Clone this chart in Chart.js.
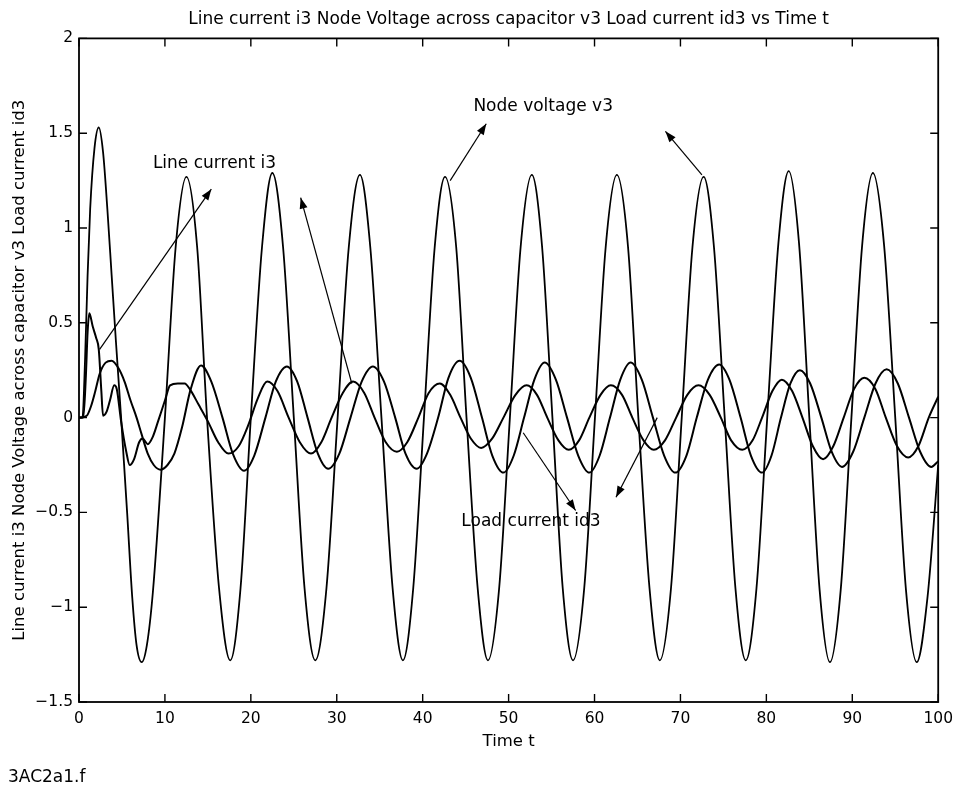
<!DOCTYPE html>
<html>
<head>
<meta charset="utf-8">
<script src="https://cdn.jsdelivr.net/npm/chart.js@4"></script>
<style>
  html, body { margin: 0; padding: 0; background: #fff; }
  #wrap { width: 961px; height: 790px; }
</style>
</head>
<body>
<div id="wrap"><canvas id="chartDiv" width="961" height="790"></canvas></div>
<script>
// tick values / labels
const xTicks = [0, 10, 20, 30, 40, 50, 60, 70, 80, 90, 100]
const yTicks = [-1.5, -1, -0.5, 0, 0.5, 1, 1.5, 2]
const yTickLabels = ['\u22121.5', '\u22121', '\u22120.5', '0', '0.5', '1', '1.5', '2']

// node voltage v3
const v3Time = [0, 0.4, 0.7, 1.0, 1.3, 1.8, 2.3, 2.8, 3.3, 3.8, 4.3, 4.9, 5.6, 6.2, 6.7, 7.3, 7.9, 8.6, 10.0,
  11.25, 12.5, 13.75, 14.9, 16.3, 17.6, 18.8, 20.0, 21.3, 22.5, 23.75, 25.0, 26.25, 27.5, 28.8, 30.1,
  31.4, 32.7, 33.9, 35.2, 36.5, 37.7, 38.9, 40.15, 41.4, 42.6, 43.9, 45.1, 46.4, 47.6, 48.9, 50.15,
  51.4, 52.7, 53.9, 55.1, 56.3, 57.5, 58.8, 60.05, 61.3, 62.6, 63.9, 65.1, 66.4, 67.6, 68.9, 70.15,
  71.4, 72.7, 73.9, 75.15, 76.4, 77.6, 78.85, 80.1, 81.4, 82.6, 83.8, 85.0, 86.2, 87.4, 88.65, 89.9,
  91.15, 92.4, 93.7, 95.0, 96.25, 97.5, 98.75, 100]
const v3Vals = [0, 0.0, 0.3, 0.75, 1.1, 1.42, 1.53, 1.4, 1.1, 0.75, 0.4, 0, -0.5, -0.95, -1.2, -1.29, -1.2, -0.92, 0,
  0.9, 1.27, 0.9, 0, -0.9, -1.28, -0.9, 0, 0.9, 1.29, 0.9, 0, -0.9, -1.28, -0.9, 0,
  0.9, 1.28, 0.9, 0, -0.9, -1.28, -0.9, 0, 0.9, 1.27, 0.9, 0, -0.9, -1.28, -0.9, 0,
  0.9, 1.28, 0.9, 0, -0.9, -1.28, -0.9, 0, 0.9, 1.28, 0.9, 0, -0.9, -1.28, -0.9, 0,
  0.9, 1.27, 0.9, 0, -0.9, -1.28, -0.9, 0, 0.92, 1.30, 0.92, 0, -0.91, -1.29, -0.91, 0,
  0.91, 1.29, 0.91, 0, -0.91, -1.29, -0.95, -0.25]

// line current i3
const i3Time = [0, 0.5, 0.8, 1.0, 1.2, 1.6, 2.0, 2.3, 2.6, 2.8, 3.2, 3.6, 4.1, 4.4, 4.9, 5.5, 5.9, 6.4, 7.0,
  7.4, 8.0, 8.6, 9.2, 10.0, 10.6, 11.5, 12.3, 12.9, 13.9, 15.0, 16.2, 17.4, 18.6, 19.7, 20.8, 21.9,
  23.1, 24.4, 25.7, 27.0, 28.2, 29.4, 30.7, 31.9, 33.2, 34.4, 35.7, 37.0, 38.2, 39.5, 40.7, 42.0,
  43.2, 44.4, 45.6, 46.8, 48.1, 49.4, 50.8, 52.1, 53.3, 54.5, 55.8, 57.0, 58.2, 59.4, 60.7, 61.9,
  63.2, 64.4, 65.7, 66.9, 68.2, 69.5, 70.8, 72.1, 73.4, 74.7, 75.9, 77.2, 78.4, 79.5, 80.7, 81.8,
  83.0, 84.2, 85.4, 86.6, 87.8, 89.0, 90.2, 91.4, 92.7, 93.9, 95.2, 96.5, 97.7, 98.9, 100]
const i3Vals = [0, 0, 0.22, 0.45, 0.55, 0.48, 0.42, 0.36, 0.14, 0.01, 0.03, 0.09, 0.17, 0.15, -0.02, -0.18, -0.25, -0.22, -0.13,
  -0.11, -0.14, -0.10, -0.02, 0.09, 0.17, 0.18, 0.18, 0.15, 0.07, -0.02, -0.13, -0.19, -0.15, -0.04, 0.10, 0.19,
  0.14, 0, -0.13, -0.19, -0.13, 0, 0.13, 0.19, 0.13, 0, -0.13, -0.18, -0.13, 0, 0.13, 0.18,
  0.12, 0, -0.11, -0.16, -0.11, 0, 0.12, 0.17, 0.12, 0, -0.12, -0.17, -0.12, 0, 0.12, 0.17,
  0.12, 0, -0.12, -0.17, -0.12, 0, 0.12, 0.17, 0.12, 0, -0.12, -0.17, -0.12, 0, 0.14, 0.20,
  0.14, 0, -0.15, -0.22, -0.15, 0, 0.15, 0.21, 0.15, 0, -0.15, -0.21, -0.15, 0, 0.11]

// load current id3
const id3Time = [0, 0.9, 1.4, 1.9, 2.4, 3.1, 3.8, 4.6, 5.3, 6.0, 6.7, 7.3, 8.0, 8.7, 9.5, 10.3, 11.1, 12.0, 13.0,
  14.2, 15.4, 16.7, 17.9, 19.2, 20.4, 21.7, 22.9, 24.2, 25.4, 26.6, 27.8, 29.0, 30.3, 31.6, 32.9,
  34.2, 35.5, 36.8, 38.0, 39.3, 40.5, 41.8, 43.0, 44.3, 45.6, 46.9, 48.1, 49.4, 50.6, 51.8, 53.0,
  54.2, 55.5, 56.8, 58.1, 59.4, 60.6, 61.8, 63.0, 64.2, 65.5, 66.8, 68.1, 69.4, 70.7, 71.9, 73.2,
  74.5, 75.7, 77.0, 78.2, 79.5, 80.6, 81.7, 82.8, 83.9, 85.1, 86.4, 87.6, 88.8, 90.1, 91.4, 92.7,
  94.0, 95.3, 96.6, 97.9, 99.2, 100]
const id3Vals = [0, 0.01, 0.06, 0.14, 0.23, 0.29, 0.30, 0.26, 0.19, 0.09, 0, -0.09, -0.19, -0.25, -0.275, -0.25, -0.19, -0.05, 0.15,
  0.275, 0.19, 0, -0.19, -0.28, -0.2, 0, 0.19, 0.27, 0.19, 0, -0.19, -0.27, -0.19, 0, 0.19,
  0.27, 0.19, 0, -0.19, -0.27, -0.19, 0, 0.21, 0.30, 0.21, 0, -0.2, -0.29, -0.2, 0, 0.2,
  0.29, 0.2, 0, -0.2, -0.29, -0.2, 0, 0.2, 0.29, 0.2, 0, -0.2, -0.29, -0.2, 0, 0.2,
  0.28, 0.2, 0, -0.2, -0.29, -0.2, 0, 0.18, 0.25, 0.18, 0, -0.18, -0.26, -0.18, 0, 0.18,
  0.255, 0.18, 0, -0.18, -0.26, -0.23]

// annotations (data coords): text labels and arrows [fromT, fromY, tipT, tipY]
const noteTexts = [
  { text: 'Line current i3', t: 8.6, y: 1.34 },
  { text: 'Node voltage v3', t: 45.9, y: 1.64 },
  { text: 'Load current id3', t: 44.5, y: -0.55 }
]
const noteArrows = [
  [2.4, 0.36, 15.4, 1.205],
  [31.75, 0.18, 25.8, 1.16],
  [43.2, 1.25, 47.4, 1.55],
  [72.5, 1.28, 68.25, 1.51],
  [51.7, -0.08, 57.8, -0.49],
  [67.3, 0.0, 62.5, -0.42]
]

const FONT = '"DejaVu Sans", sans-serif'
const toPoints = (ts, vs) => ts.map((t, i) => ({ x: t, y: vs[i] }))

const matlabBox = {
  id: 'matlabBox',
  afterDatasetsDraw(chart) {
    const { ctx, chartArea: a, scales: { x, y } } = chart
    ctx.save()
    ctx.strokeStyle = '#000'
    ctx.lineWidth = 1.8
    ctx.strokeRect(a.left, a.top, a.right - a.left, a.bottom - a.top)
    ctx.lineWidth = 1.4
    ctx.beginPath()
    xTicks.forEach(v => {
      const px = x.getPixelForValue(v)
      ctx.moveTo(px, a.bottom); ctx.lineTo(px, a.bottom - 8)
      ctx.moveTo(px, a.top); ctx.lineTo(px, a.top + 8)
    })
    yTicks.forEach(v => {
      const py = y.getPixelForValue(v)
      ctx.moveTo(a.left, py); ctx.lineTo(a.left + 8, py)
      ctx.moveTo(a.right, py); ctx.lineTo(a.right - 8, py)
    })
    ctx.stroke()

    // arrows
    ctx.lineWidth = 1.2
    ctx.fillStyle = '#000'
    noteArrows.forEach(([t0, y0, t1, y1]) => {
      const x0 = x.getPixelForValue(t0), yy0 = y.getPixelForValue(y0)
      const x1 = x.getPixelForValue(t1), yy1 = y.getPixelForValue(y1)
      const ang = Math.atan2(yy1 - yy0, x1 - x0)
      ctx.beginPath()
      ctx.moveTo(x0, yy0); ctx.lineTo(x1, yy1)
      ctx.stroke()
      ctx.beginPath()
      ctx.moveTo(x1, yy1)
      ctx.lineTo(x1 - 11 * Math.cos(ang) + 4 * Math.sin(ang), yy1 - 11 * Math.sin(ang) - 4 * Math.cos(ang))
      ctx.lineTo(x1 - 11 * Math.cos(ang) - 4 * Math.sin(ang), yy1 - 11 * Math.sin(ang) + 4 * Math.cos(ang))
      ctx.closePath()
      ctx.fill()
    })

    ctx.font = '17px ' + FONT
    ctx.textAlign = 'left'
    ctx.textBaseline = 'middle'
    noteTexts.forEach(n => {
      ctx.fillText(n.text, x.getPixelForValue(n.t), y.getPixelForValue(n.y))
    })
    ctx.restore()
  },
  afterDraw(chart) {
    const { ctx } = chart
    ctx.save()
    ctx.font = '17px ' + FONT
    ctx.fillStyle = '#000'
    ctx.textAlign = 'left'
    ctx.textBaseline = 'middle'
    ctx.fillText('3AC2a1.f', 8, 778)
    ctx.restore()
  }
}

const lineStyle = {
  showLine: true,
  borderColor: '#000',
  borderWidth: 2,
  pointRadius: 0,
  cubicInterpolationMode: 'monotone',
  fill: false
}

new Chart(document.getElementById('chartDiv'), {
  type: 'scatter',
  data: {
    datasets: [
      { label: 'Node voltage v3', data: toPoints(v3Time, v3Vals), ...lineStyle, borderWidth: 1.8 },
      { label: 'Line current i3', data: toPoints(i3Time, i3Vals), ...lineStyle },
      { label: 'Load current id3', data: toPoints(id3Time, id3Vals), ...lineStyle }
    ]
  },
  plugins: [matlabBox],
  options: {
    responsive: false,
    animation: false,
    events: [],
    layout: { padding: { left: 0, right: 19, top: 0, bottom: 0 } },
    scales: {
      x: {
        type: 'linear',
        min: 0,
        max: 100,
        afterFit: s => { s.height = 88 },
        afterBuildTicks: s => { s.ticks = xTicks.map(v => ({ value: v })) },
        grid: { display: false, drawTicks: false },
        border: { display: false },
        ticks: {
          padding: 8,
          color: '#000',
          font: { size: 15.5, family: FONT },
          maxRotation: 0,
          callback: v => String(v)
        },
        title: {
          display: true,
          text: 'Time t',
          color: '#000',
          font: { size: 16.5, family: FONT },
          padding: { top: 0, bottom: 38 }
        }
      },
      y: {
        type: 'linear',
        min: -1.5,
        max: 2,
        afterFit: s => { s.width = 79 },
        afterBuildTicks: s => { s.ticks = yTicks.map(v => ({ value: v })) },
        grid: { display: false, drawTicks: false },
        border: { display: false },
        ticks: {
          padding: 6,
          color: '#000',
          font: { size: 15.5, family: FONT },
          callback: v => {
            const i = yTicks.findIndex(t => Math.abs(t - v) < 1e-9)
            return i >= 0 ? yTickLabels[i] : ''
          }
        },
        title: {
          display: true,
          text: 'Line current i3 Node Voltage across capacitor v3 Load current id3',
          color: '#000',
          font: { size: 16.5, family: FONT },
          padding: { top: 10, bottom: 0 }
        }
      }
    },
    plugins: {
      legend: { display: false },
      tooltip: { enabled: false },
      title: {
        display: true,
        fullSize: false,
        text: 'Line current i3 Node Voltage across capacitor v3 Load current id3 vs Time t',
        color: '#000',
        font: { size: 17, family: FONT, weight: 'normal' },
        padding: { top: 9, bottom: 9 }
      }
    }
  }
})
</script>
</body>
</html>
